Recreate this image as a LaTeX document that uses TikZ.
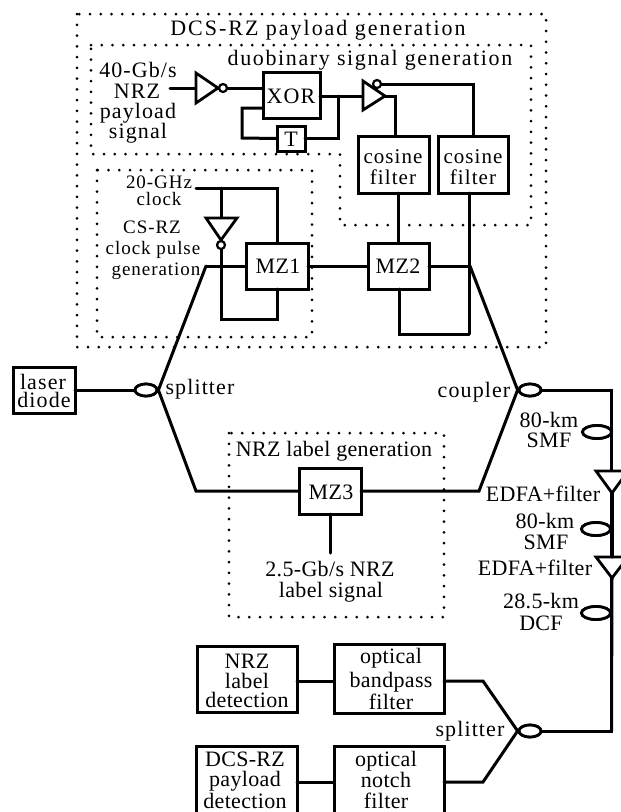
\documentclass[tikz,border=0pt]{standalone}
\usepackage{fontspec}
\setmainfont{Liberation Serif}
\newfontfamily\wideA[LetterSpace=9]{Liberation Serif}
\newfontfamily\wideB[LetterSpace=5]{Liberation Serif}
\newfontfamily\wideC[LetterSpace=7.4]{Liberation Serif}
\newfontfamily\tightF[LetterSpace=1.5]{Liberation Serif}
\usetikzlibrary{shapes.geometric}
\tikzset{
  x=1pt,y=-1pt,
  wire/.style={line width=3pt,line join=miter,line cap=round},
  dots/.style={line width=3pt,line cap=round,dash pattern=on 0pt off 10.75pt},
  blk/.style={fill=white,inner sep=0pt,outer sep=0pt},
  txt/.style={inner sep=0pt,anchor=base,font=\fontsize{22}{22}\tightF},
  txtw/.style={inner sep=0pt,anchor=base,font=\fontsize{22}{22}\wideB},
  txth/.style={inner sep=0pt,anchor=base,font=\fontsize{22}{22}\wideA},
  txtd/.style={inner sep=0pt,anchor=base,font=\fontsize{22}{22}\wideC},
  txts/.style={inner sep=0pt,anchor=base,font=\fontsize{19}{19}\wideB},
  txtc/.style={inner sep=0pt,anchor=base,font=\fontsize{21}{21}\wideB},
  fibre/.style={draw,ellipse,line width=2.8pt,fill=white,inner sep=0pt,minimum width=22pt,minimum height=12pt},
  spool/.style={draw,ellipse,line width=2.8pt,fill=white,inner sep=0pt,minimum width=29pt,minimum height=13pt},
  bub/.style={draw,circle,line width=2.2pt,fill=white,inner sep=0pt,minimum size=8pt},
  tri/.style={line width=2.8pt,line join=miter,fill=white},
  openbox/.style={line width=3pt,line join=miter},
}
\newcommand{\bx}[5]{\node[blk,minimum width=#3-#2,minimum height=#5-#4] (#1) at ({(#2+#3)/2},{(#4+#5)/2}) {};
  \draw[openbox] (#1.south west) rectangle (#1.north east);}
\begin{document}
\begin{tikzpicture}
\useasboundingbox[fill=white] (0,0) rectangle (621,812);
% dotted regions
\draw[dots] (77,14) rectangle (546,347);
\draw[dots] (91,45) -- (531,45) -- (531,225) -- (340,225) -- (340,154) -- (91,154) -- cycle;
\draw[dots] (97,170) rectangle (312,337);
\draw[dots] (229,433) rectangle (444,617);
% junction coordinates
\coordinate (jin) at (170,88);
\coordinate (jfb) at (338,96);
\coordinate (jclk) at (196,188);
\coordinate (jbr) at (221,188);
\coordinate (jlow) at (221,319);
\coordinate (kink1) at (206,266);
\coordinate (kink2) at (196,491);
\coordinate (kink3) at (479,491);
\coordinate (kink4) at (470,266);
\coordinate (jcorner) at (469,334);
\coordinate (trA) at (611.5,390);
\coordinate (trB) at (611.5,731);
\coordinate (kink5) at (483,681);
\coordinate (kink6) at (483,782);
\coordinate (lab) at (330,553);
% boxes
\bx{xor}{263}{320}{72}{118}
\bx{tbox}{277}{305}{126}{151}
\bx{cosa}{358}{429}{136}{193}
\bx{cosb}{438}{508}{136}{193}
\bx{mza}{246}{308}{243}{289}
\bx{mzb}{368}{429}{243}{289}
\bx{mzc}{299}{361}{468}{514}
\bx{laser}{13}{75}{367}{413}
\bx{nrzd}{197}{297}{646}{712}
\bx{bpf}{334}{444}{644}{713}
% fibres
\node[fibre] (spl) at (146,390) {};
\node[fibre] (cpl) at (530,390) {};
\node[fibre] (spr) at (530,731) {};
\node[spool] (smfa) at (597,432) {};
\node[spool] (smfb) at (596,529) {};
\node[spool] (dcf) at (596,613) {};
% inverter geometry
\coordinate (ia1) at (196,73); \coordinate (ia2) at (196,103); \coordinate (ia3) at (218,88);
\coordinate (ib1) at (363,81); \coordinate (ib2) at (363,110); \coordinate (ib3) at (385,96);
\coordinate (ic1) at (206,218); \coordinate (ic2) at (237,218); \coordinate (ic3) at (221,240);
\coordinate (ampa) at (612,493); \coordinate (ampb) at (612,578);
% wires
\begin{scope}[wire]
\draw (jin) -- (ia1 |- jin);
\draw (ia3) -- (xor.west |- ia3);
\draw (xor.east |- jfb) -- (ib1 |- jfb);
\draw (xor.west |- 0,108) -| (242,138) -- (tbox.west);
\draw (tbox.east) -| (jfb);
\draw (ib3) -| (cosa.north -| 395,0);
\draw (377,84) -| (cosb.north -| 473,0);
\draw (cosa.south -| 398,0) -- (mzb.north -| 398,0);
\draw (cosb.south -| 469,0) -- (jcorner);
\draw (jcorner) -| (mzb.south -| 399,0);
\draw (mzb.east) -- (kink4);
\draw (mza.east) -- (mzb.west);
\draw (jclk) -| (mza.north);
\draw (jbr) -- (ic1 -| jbr);
\draw (jbr |- ic3) -- (jlow) -| (mza.south);
\draw (kink1) -- (mza.west);
\draw (kink1) -- (spl.east);
\draw (laser.east) -- (spl.west);
\draw (spl.east) -- (kink2) -- (mzc.west);
\draw (mzc.east) -- (kink3) -- (cpl.west);
\draw (kink4) -- (cpl.west);
\draw (mzc.south) -- (lab);
\draw (cpl.east) -- (trA) -- (trB) -- (spr.east);
\draw (bpf.east |- kink5) -- (kink5) -- (spr.west);
\draw (nrzd.east |- kink5) -- (bpf.west |- kink5);
\end{scope}
% re-stroke shapes over wires
\node[spool] at (smfa) {};
\node[spool] at (smfb) {};
\node[spool] at (dcf) {};
\node[fibre] at (spl) {};
\node[fibre] at (cpl) {};
% inverters and amplifiers
\draw[tri] (ia1) -- (ia2) -- (ia3) -- cycle;
\node[bub] (ba) at (223,88) {};
\draw[tri] (ib1) -- (ib2) -- (ib3) -- cycle;
\node[bub] (bb) at (377,84) {};
\draw[tri] (ic1) -- (ic2) -- (ic3) -- cycle;
\node[bub] (bc) at (221,245) {};
\draw[tri] (596,471) -- (628,471) -- (ampa) -- cycle;
\draw[tri] (596,557) -- (628,557) -- (ampb) -- cycle;
\draw[wire] (ampa) -- (ampa |- 0,557);
\draw[wire] (ampb) -- (trB);
% cut-off boxes at the bottom edge
\node[inner sep=0pt,outer sep=0pt,minimum width=101pt,minimum height=66pt] (dcsd) at (246.5,779) {};
\node[inner sep=0pt,outer sep=0pt,minimum width=110pt,minimum height=66pt] (notch) at (389,779) {};
\draw[wire] (dcsd.east |- kink6) -- (notch.west |- kink6);
\draw[wire] (notch.east |- kink6) -- (kink6) -- (spr.west);
\node[fibre] at (spr) {};
\draw[openbox] (dcsd.south west) -- (dcsd.north west) -- (dcsd.north east) -- (dcsd.south east);
\draw[openbox] (notch.south west) -- (notch.north west) -- (notch.north east) -- (notch.south east);
% texts (x centre, baseline y)
\node[txth] (t1) at (318,35) {DCS-RZ payload generation};
\node[txtd] (t2) at (370,65) {duobinary signal generation};
\node[txtw] (t3a) at (138,77) {40-Gb/s};
\node[txtw] (t3b) at (137,98) {NRZ};
\node[txtw] (t3c) at (138,118) {payload};
\node[txtw] (t3d) at (138,138) {signal};
\node[txtw] (txor) at (291,103) {XOR};
\node[txt] (tt) at (291,146) {T};
\node[txtc] (tc1a) at (393,163) {cosine};
\node[txtc] (tc1b) at (393,184) {filter};
\node[txtc] (tc2a) at (473,163) {cosine};
\node[txtc] (tc2b) at (473,184) {filter};
\node[txts] (t4a) at (159,188) {20-GHz};
\node[txts] (t4b) at (159,205) {clock};
\node[txts] (t5a) at (152,233) {CS-RZ};
\node[txts] (t5b) at (153,254) {clock pulse};
\node[txts] (t5c) at (156,275) {generation};
\node[txt] (tm1) at (278,273) {MZ1};
\node[txt] (tm2) at (398,273) {MZ2};
\node[txt] (tm3) at (331,499) {MZ3};
\node[txtw] (tl1) at (43,389) {laser};
\node[txtw] (tl2) at (44,407) {diode};
\node[txtw] (t6) at (200,394) {splitter};
\node[txtw] (t7) at (474,397) {coupler};
\node[txt] (t8a) at (549,427) {80-km};
\node[txt] (t8b) at (549,447) {SMF};
\node[txt] (t9) at (543,501) {EDFA+filter};
\node[txt] (t10a) at (545,528) {80-km};
\node[txt] (t10b) at (546,549) {SMF};
\node[txt] (t11) at (535,575) {EDFA+filter};
\node[txt] (t12a) at (541,608) {28.5-km};
\node[txt] (t12b) at (541,630) {DCF};
\node[txt] (t13) at (334,456) {NRZ label generation};
\node[txt] (t14a) at (330,576) {2.5-Gb/s NRZ};
\node[txt] (t14b) at (331,597) {label signal};
\node[txt] (tn1) at (247,668) {NRZ};
\node[txt] (tn2) at (247,688) {label};
\node[txt] (tn3) at (247,707) {detection};
\node[txt] (tb1) at (391,663) {optical};
\node[txt] (tb2) at (391,687) {bandpass};
\node[txt] (tb3) at (391,709) {filter};
\node[txtw] (t15) at (470,736) {splitter};
\node[txt] (t16a) at (245,766) {DCS-RZ};
\node[txt] (t16b) at (245,786) {payload};
\node[txt] (t16c) at (245,808) {detection};
\node[txt] (t17a) at (386,766) {optical};
\node[txt] (t17b) at (386,787) {notch};
\node[txt] (t17c) at (386,808) {filter};
\end{tikzpicture}
\end{document}
